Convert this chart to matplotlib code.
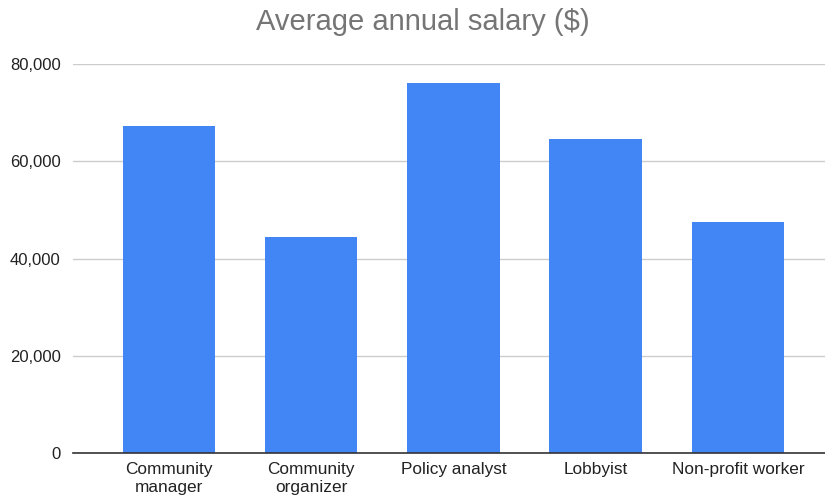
import matplotlib
matplotlib.use('Agg')
import matplotlib.pyplot as plt
from matplotlib.ticker import FuncFormatter

# Dữ liệu
jobs = ['Community\nmanager', 'Community\norganizer', 'Policy analyst',
        'Lobbyist', 'Non-profit worker']
salary = [67300, 44500, 76100, 64600, 47500]
y_ticks = [0, 20000, 40000, 60000, 80000]

plt.rcParams['font.family'] = ['Liberation Sans', 'DejaVu Sans']

fig = plt.figure(figsize=(8.25, 4.97), dpi=100)
ax = fig.add_axes([0.0885, 0.088, 0.911, 0.783])

x = range(len(jobs))
ax.bar(x, salary, width=0.65, color='#4285F4', zorder=3)

ax.set_xlim(-0.674, 4.61)
ax.set_ylim(0, 80000)
ax.set_yticks(y_ticks)
ax.yaxis.set_major_formatter(FuncFormatter(lambda v, p: f'{int(v):,}'))
ax.set_xticks(list(x))
ax.set_xticklabels(jobs, fontsize=12.4, color='#222222', linespacing=1.25)
ax.tick_params(axis='y', length=0, pad=9, labelsize=12, labelcolor='#222222')
ax.tick_params(axis='x', length=0, pad=6)

ax.grid(axis='y', color='#cccccc', linewidth=1.0, zorder=0)
for s in ['top', 'right', 'left']:
    ax.spines[s].set_visible(False)
ax.spines['bottom'].set_color('#333333')
ax.spines['bottom'].set_linewidth(1.2)
ax.spines['bottom'].set_zorder(4)

fig.text(0.513, 0.955, 'Average annual salary ($)', ha='center', va='center',
         fontsize=21, color='#757575')

plt.savefig('out.png', dpi=100)
plt.close()
